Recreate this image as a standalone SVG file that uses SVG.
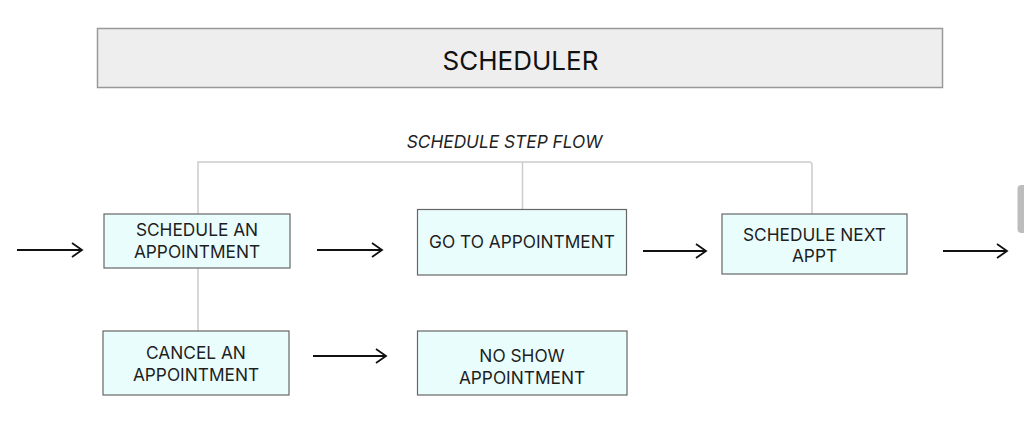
<svg xmlns="http://www.w3.org/2000/svg" width="1024" height="427" viewBox="0 0 1024 427">
  <defs>
    <style>
      .box { fill: #e9fdfd; stroke: #666; stroke-width: 1.2; }
      .lbl { font-family: Inter, "Liberation Sans", sans-serif; font-size: 17.3px; fill: #1e1e1e; text-anchor: middle; }
      .arrow { stroke: #111; stroke-width: 1.8; fill: none; marker-end: url(#head); }
      .bracket { stroke: #cccccc; stroke-width: 1.5; fill: none; }
    </style>
    <marker id="head" markerUnits="userSpaceOnUse" markerWidth="14" markerHeight="18" refX="11" refY="8" orient="auto">
      <path d="M1,1 L11,8 L1,15" fill="none" stroke="#111" stroke-width="1.8"/>
    </marker>
  </defs>
  <rect width="1024" height="427" fill="#ffffff"/>

  <g id="header">
    <rect x="97.5" y="28.5" width="845" height="59" fill="#eeeeee" stroke="#999" stroke-width="1.5"/>
    <text x="520.5" y="69.5" font-family="Inter, 'Liberation Sans', sans-serif" font-size="26" fill="#111" text-anchor="middle">SCHEDULER</text>
  </g>

  <g id="flow-title">
    <text x="504.5" y="148" font-family="Inter, 'Liberation Sans', sans-serif" font-size="17.3" font-style="italic" fill="#222" text-anchor="middle">SCHEDULE STEP FLOW</text>
  </g>

  <g id="connectors">
    <path class="bracket" d="M198,331 V162 H809 Q812,162 812,165 V214"/>
    <path class="bracket" d="M522.5,162 V209"/>
    <line class="arrow" x1="17" y1="250" x2="82" y2="250"/>
    <line class="arrow" x1="317" y1="250" x2="382" y2="250"/>
    <line class="arrow" x1="643" y1="251" x2="706" y2="251"/>
    <line class="arrow" x1="943" y1="251" x2="1007" y2="251"/>
    <line class="arrow" x1="313" y1="356" x2="386" y2="356"/>
  </g>

  <g id="schedule-appointment">
    <rect class="box" x="104" y="214" width="186" height="54"/>
    <text class="lbl" x="197" y="236">SCHEDULE AN</text>
    <text class="lbl" x="197" y="257.5">APPOINTMENT</text>
  </g>

  <g id="go-to-appointment">
    <rect class="box" x="417.5" y="209.5" width="209" height="65.5"/>
    <text class="lbl" x="522" y="247.5">GO TO APPOINTMENT</text>
  </g>

  <g id="schedule-next-appt">
    <rect class="box" x="722" y="214" width="185" height="60"/>
    <text class="lbl" x="814.5" y="240.5">SCHEDULE NEXT</text>
    <text class="lbl" x="814.5" y="261.5">APPT</text>
  </g>

  <g id="cancel-appointment">
    <rect class="box" x="103" y="331" width="186" height="64"/>
    <text class="lbl" x="196" y="359">CANCEL AN</text>
    <text class="lbl" x="196" y="381">APPOINTMENT</text>
  </g>

  <g id="no-show-appointment">
    <rect class="box" x="417.5" y="331" width="209.5" height="64"/>
    <text class="lbl" x="522" y="362">NO SHOW</text>
    <text class="lbl" x="522" y="384">APPOINTMENT</text>
  </g>

  <rect x="1017.5" y="185" width="10" height="48" rx="4" fill="#bdbdbd"/>
</svg>
